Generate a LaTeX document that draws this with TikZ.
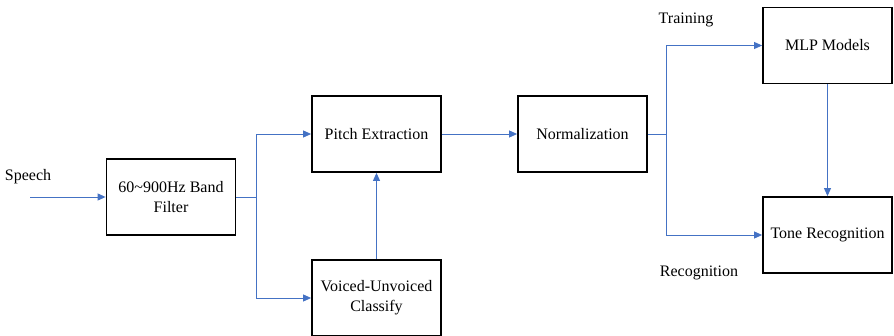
\documentclass[tikz,border=0pt]{standalone}
\usepackage{fontspec}
\setmainfont{Liberation Serif}
\usetikzlibrary{arrows.meta}
\definecolor{linkblue}{RGB}{68,114,196}

\begin{document}
\begin{tikzpicture}[x=1pt,y=-1pt,
		block/.style={draw,line width=1.8pt,minimum width=129pt,minimum height=76pt,align=center,inner sep=2pt},
		link/.style={draw=linkblue,line width=0.9pt,-{Triangle[length=8pt,width=7pt]}},
		wire/.style={draw=linkblue,line width=0.9pt},
		every node/.style={font=\fontsize{16}{20}\selectfont}]
			\useasboundingbox (0,0) rectangle (894,335);
			\node[block] (filter) at (171,197) {60\textasciitilde900Hz Band\\Filter};
			\node[block] (pitch) at (376.5,134) {Pitch Extraction};
			\node[block] (voiced) at (376.5,298) {Voiced-Unvoiced\\Classify};
			\node[block] (norm) at (582.5,134) {Normalization};
			\node[block] (mlp) at (827.5,45.5) {MLP Models};
			\node[block] (tone) at (827.5,235) {Tone Recognition};
			\node (speech) at (28,177) {Speech};
			\node (training) at (686,20) {Training};
			\node (recog) at (699,273) {Recognition};
			\coordinate (start) at (30,197);
			\coordinate (split1) at (256,197);
			\coordinate (split2) at (666,134);
			\draw[link] (start) -- (filter);
			\draw[wire] (filter) -- (split1);
			\draw[link] (split1) |- (pitch);
			\draw[link] (split1) |- (voiced);
			\draw[link] (voiced) -- (pitch);
			\draw[link] (pitch) -- (norm);
			\draw[wire] (norm) -- (split2);
			\draw[link] (split2) |- (mlp);
			\draw[link] (split2) |- (tone);
			\draw[link] (mlp) -- (tone);
		\end{tikzpicture}
\end{document}
